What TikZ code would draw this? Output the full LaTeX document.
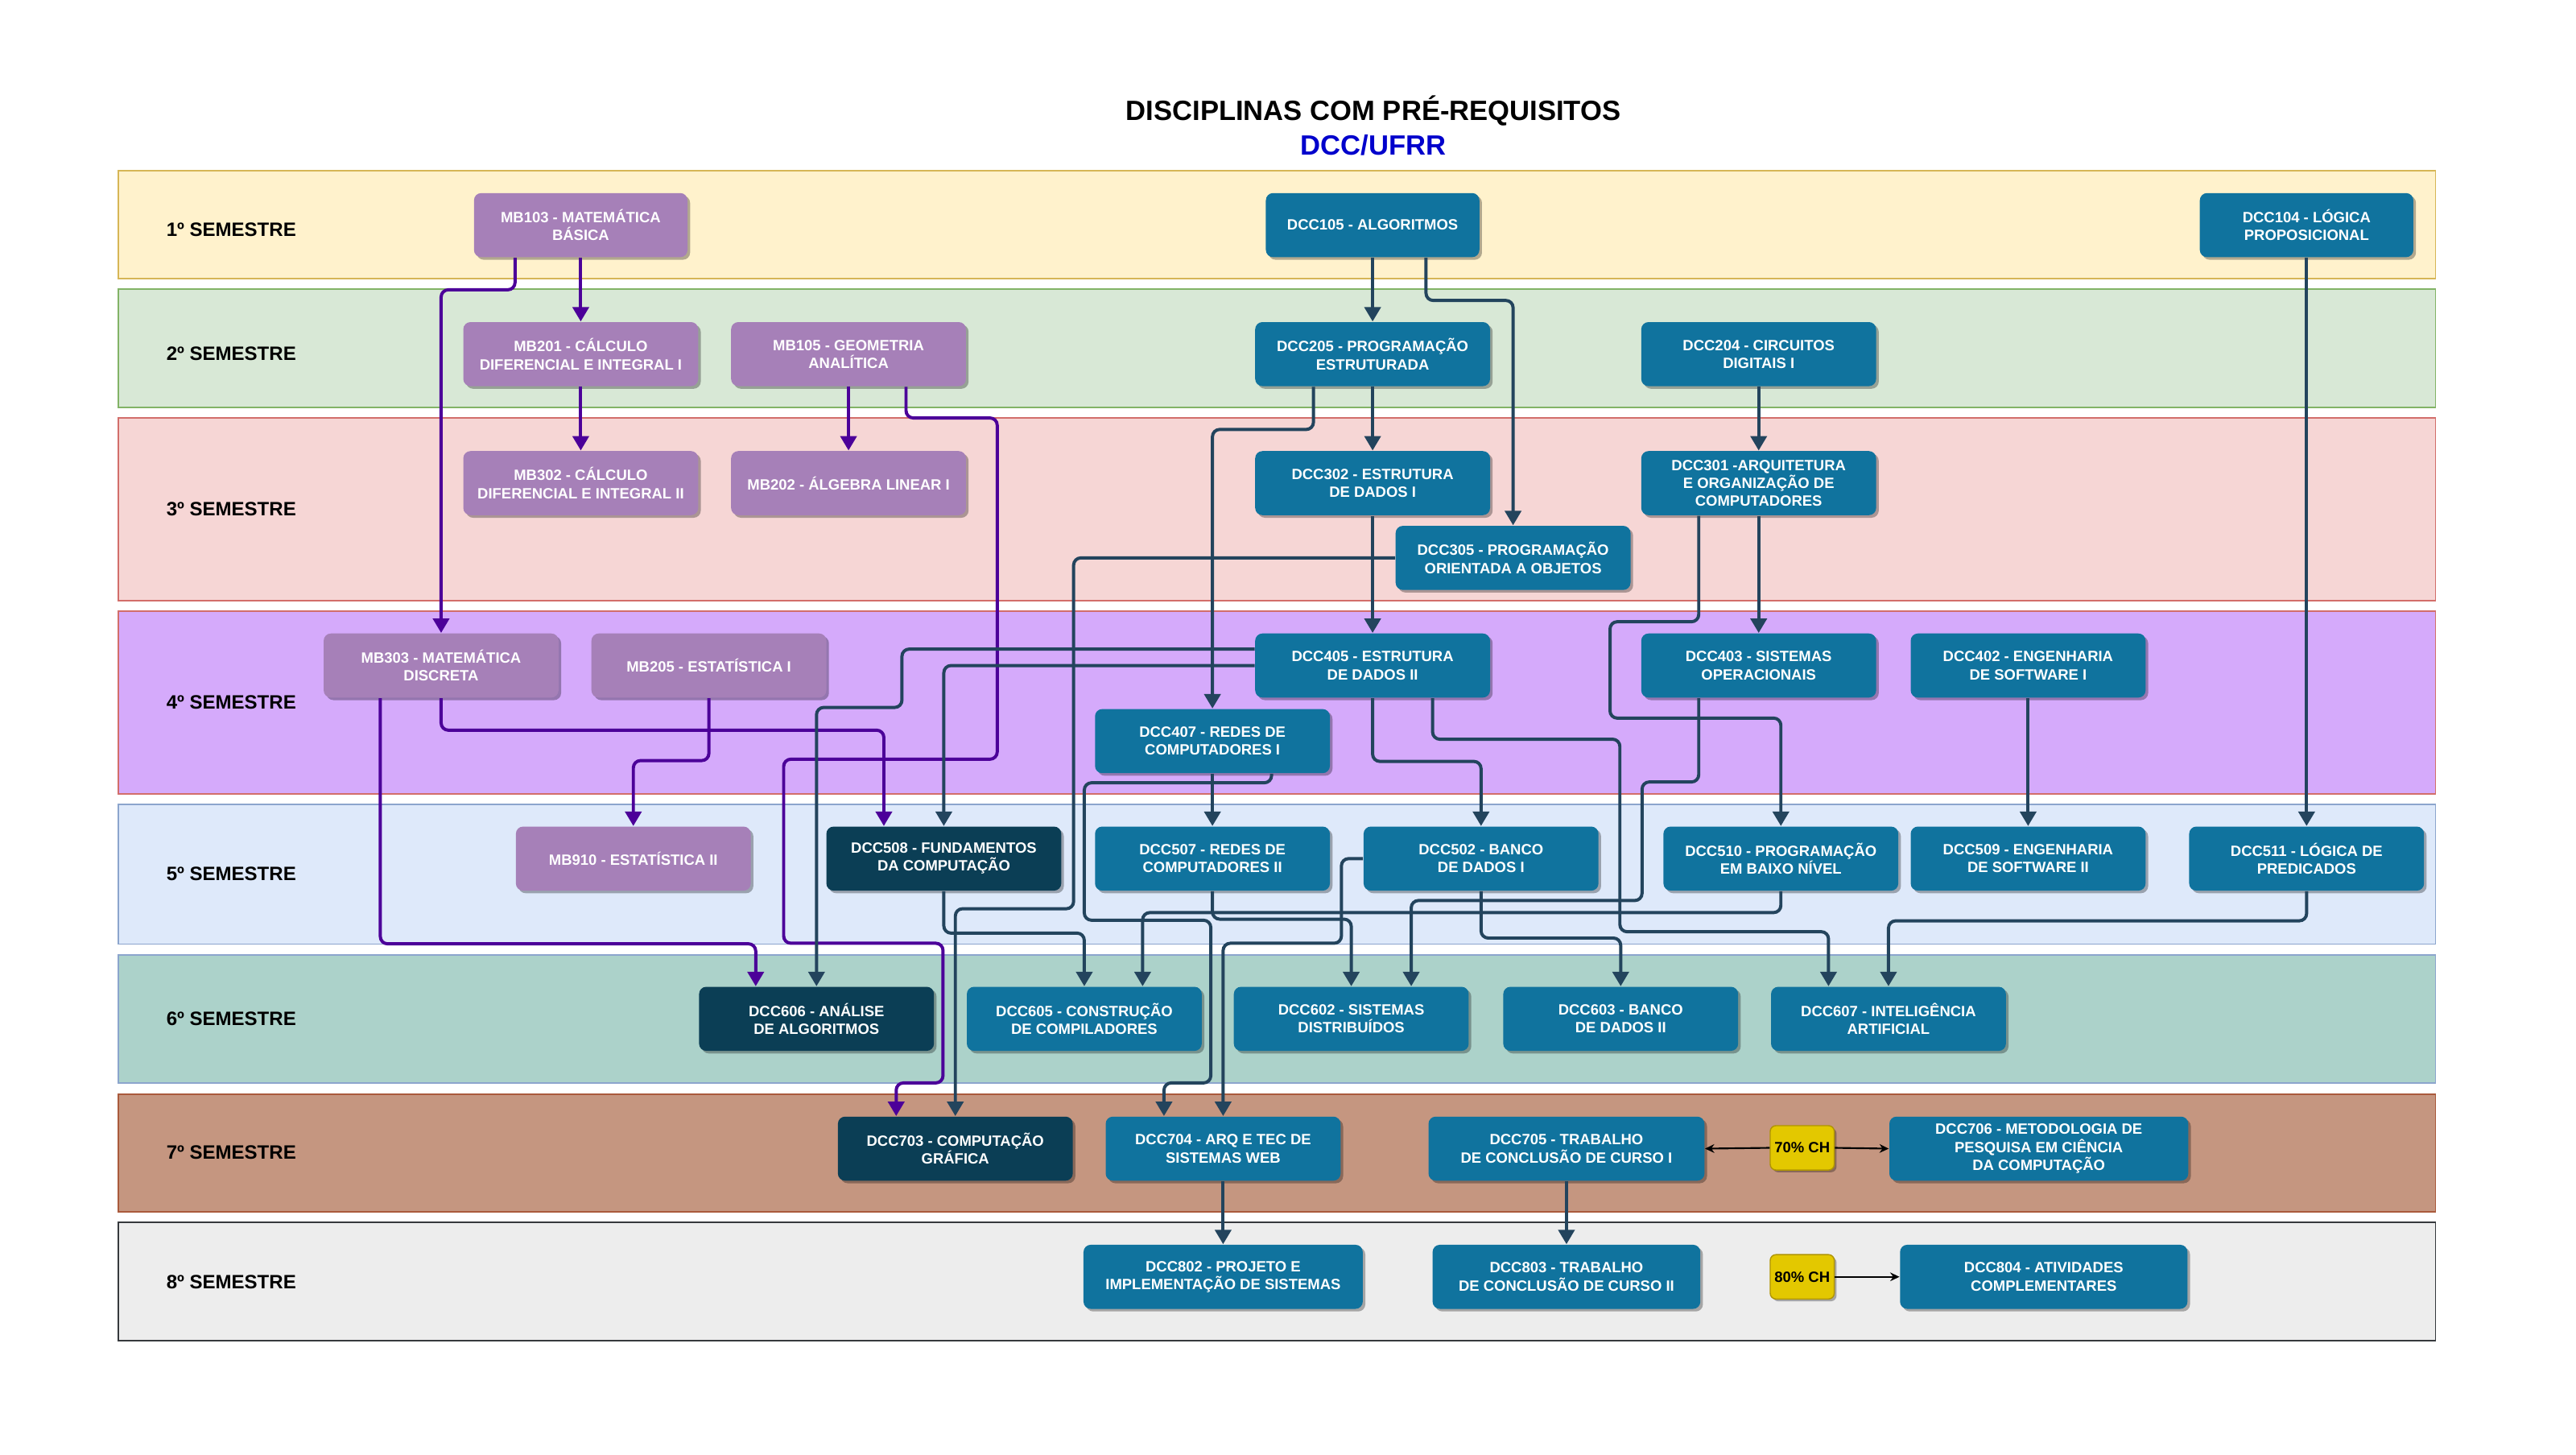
\documentclass[tikz,border=0pt]{standalone}
\usepackage{fontspec}
\setmainfont{Liberation Sans}
\usetikzlibrary{arrows.meta, calc, shadows, backgrounds}

\definecolor{mbpurple}{HTML}{A680B8}
\definecolor{dccblue}{HTML}{10739E}
\definecolor{dccdark}{HTML}{0B3E55}
\definecolor{linepurple}{HTML}{4C0099}
\definecolor{lineblue}{HTML}{23445D}
\definecolor{titleblue}{HTML}{0000CC}
\definecolor{badgefill}{HTML}{E3C800}
\definecolor{badgedraw}{HTML}{B09500}

\begin{document}
\begin{tikzpicture}[
    x=0.02cm, y=-0.02cm,
    >={Triangle[width=5.6pt, length=5pt]},
    box/.style={
        rounded corners=2.5pt, minimum width=2.86cm, minimum height=0.78cm,
        align=center, inner sep=1pt, text=white,
        font=\fontsize{5.15}{6.2}\selectfont\bfseries,
        drop shadow={shadow xshift=0.9pt, shadow yshift=-0.9pt, opacity=0.3, fill=black},
    },
    mb/.style={box,   fill=mbpurple},
    dcc/.style={box,  fill=dccblue},
    core/.style={box, fill=dccdark},
    badge/.style={
        draw=badgedraw, fill=badgefill, line width=0.4pt, rounded corners=2pt,
        minimum width=0.78cm, minimum height=0.54cm, inner sep=0pt,
        font=\fontsize{5.15}{6.2}\selectfont\bfseries,
        drop shadow={shadow xshift=0.8pt, shadow yshift=-0.8pt, opacity=0.3, fill=black},
    },
    lane/.style={line width=0.5pt},
    semlabel/.style={anchor=west, inner sep=0pt, font=\fontsize{6.7}{8}\selectfont\bfseries},
    parr/.style={->, line width=1.1pt, draw=linepurple, rounded corners=2.5pt},
    barr/.style={->, line width=1.1pt, draw=lineblue, rounded corners=2.5pt},
    karr/.style={-{Stealth[length=3.2pt, width=3pt]}, line width=0.6pt, draw=black},
]

\useasboundingbox (0,0) rectangle (1568,885);

% ============ TITLE ============
\node[anchor=base, font=\fontsize{9.65}{11}\selectfont\bfseries] (title) at (836,73.5) {DISCIPLINAS COM PRÉ-REQUISITOS};
\node[anchor=base, font=\fontsize{9.65}{11}\selectfont\bfseries, text=titleblue] (subtitle) at (836,94.5) {DCC/UFRR};

% ============ NODES ============

% 1º semestre (y=137)
\node[mb,  minimum width=2.6cm] (mb103)  at (353.5,137) {MB103 - MATEMÁTICA\\BÁSICA};
\node[dcc, minimum width=2.6cm] (dcc105) at (835.5,137) {DCC105 - ALGORITMOS};
\node[dcc, minimum width=2.6cm] (dcc104) at (1404,137)  {DCC104 - LÓGICA\\PROPOSICIONAL};

% 2º semestre (y=215.5)
\node[mb]  (mb201)  at (353.5,215.5)  {MB201 - CÁLCULO\\DIFERENCIAL E INTEGRAL I};
\node[mb]  (mb105)  at (516.5,215.5)  {MB105 - GEOMETRIA\\ANALÍTICA};
\node[dcc] (dcc205) at (835.5,215.5)  {DCC205 - PROGRAMAÇÃO\\ESTRUTURADA};
\node[dcc] (dcc204) at (1070.5,215.5) {DCC204 - CIRCUITOS\\DIGITAIS I};

% 3º semestre (y=294), POO a bit lower
\node[mb]  (mb302)  at (353.5,294)  {MB302 - CÁLCULO\\DIFERENCIAL E INTEGRAL II};
\node[mb]  (mb202)  at (516.5,294)  {MB202 - ÁLGEBRA LINEAR I};
\node[dcc] (dcc302) at (835.5,294)  {DCC302 - ESTRUTURA\\DE DADOS I};
\node[dcc] (dcc301) at (1070.5,294) {DCC301 -ARQUITETURA\\E ORGANIZAÇÃO DE\\COMPUTADORES};
\node[dcc] (dcc305) at (921,339.5)  {DCC305 - PROGRAMAÇÃO\\ORIENTADA A OBJETOS};

% 4º semestre (y=405), Redes I a bit lower
\node[mb]  (mb303)  at (268.5,405)  {MB303 - MATEMÁTICA\\DISCRETA};
\node[mb]  (mb205)  at (431.5,405)  {MB205 - ESTATÍSTICA I};
\node[dcc] (dcc405) at (835.5,405)  {DCC405 - ESTRUTURA\\DE DADOS II};
\node[dcc] (dcc403) at (1070.5,405) {DCC403 - SISTEMAS\\OPERACIONAIS};
\node[dcc] (dcc402) at (1234.5,405) {DCC402 - ENGENHARIA\\DE SOFTWARE I};
\node[dcc] (dcc407) at (738,451)    {DCC407 - REDES DE\\COMPUTADORES I};

% 5º semestre (y=522.5)
\node[mb]   (mb910)  at (385.5,522.5)  {MB910 - ESTATÍSTICA II};
\node[core] (dcc508) at (574.5,522.5)  {DCC508 - FUNDAMENTOS\\DA COMPUTAÇÃO};
\node[dcc]  (dcc507) at (738,522.5)    {DCC507 - REDES DE\\COMPUTADORES II};
\node[dcc]  (dcc502) at (901.5,522.5)  {DCC502 - BANCO\\DE DADOS I};
\node[dcc]  (dcc510) at (1084,522.5)   {DCC510 - PROGRAMAÇÃO\\EM BAIXO NÍVEL};
\node[dcc]  (dcc509) at (1234.5,522.5) {DCC509 - ENGENHARIA\\DE SOFTWARE II};
\node[dcc]  (dcc511) at (1404,522.5)   {DCC511 - LÓGICA DE\\PREDICADOS};

% 6º semestre (y=620)
\node[core] (dcc606) at (497,620)    {DCC606 - ANÁLISE\\DE ALGORITMOS};
\node[dcc]  (dcc605) at (660,620)    {DCC605 - CONSTRUÇÃO\\DE COMPILADORES};
\node[dcc]  (dcc602) at (822.5,620)  {DCC602 - SISTEMAS\\DISTRIBUÍDOS};
\node[dcc]  (dcc603) at (986.5,620)  {DCC603 - BANCO\\DE DADOS II};
\node[dcc]  (dcc607) at (1149.5,620) {DCC607 - INTELIGÊNCIA\\ARTIFICIAL};

% 7º semestre (y=699)
\node[core] (dcc703) at (581.5,699) {DCC703 - COMPUTAÇÃO\\GRÁFICA};
\node[dcc]  (dcc704) at (744.5,699) {DCC704 - ARQ E TEC DE\\SISTEMAS WEB};
\node[dcc, minimum width=3.36cm] (dcc705) at (953.5,699) {DCC705 - TRABALHO\\DE CONCLUSÃO DE CURSO I};
\node[badge] (ch70) at (1097,698.5) {70\% CH};
\node[dcc, minimum width=3.64cm] (dcc706) at (1241,699) {DCC706 - METODOLOGIA DE\\PESQUISA EM CIÊNCIA\\DA COMPUTAÇÃO};

% 8º semestre (y=777)
\node[dcc, minimum width=3.4cm]  (dcc802) at (744.5,777) {DCC802 - PROJETO E\\IMPLEMENTAÇÃO DE SISTEMAS};
\node[dcc, minimum width=3.26cm] (dcc803) at (953.5,777) {DCC803 - TRABALHO\\DE CONCLUSÃO DE CURSO II};
\node[badge] (ch80) at (1097,777) {80\% CH};
\node[dcc, minimum width=3.5cm]  (dcc804) at (1244,777)  {DCC804 - ATIVIDADES\\COMPLEMENTARES};

% ============ ARROWS ============

% Math track (purple)
\draw[parr] (mb103.south) -- (mb201.north);
\draw[parr] ($(mb103.south)+(-40,0)$) -- ++(0,19.5) -| (mb303.north);
\draw[parr] (mb201.south) -- (mb302.north);
\draw[parr] (mb105.south) -- (mb202.north);
\draw[parr] ($(mb105.south)+(35,0)$) -- ++(0,19) -| (607,462) -| (477,574) -| (574,659) -| ($(dcc703.north)+(-36,0)$);
\draw[parr] ($(mb303.south)+(-37,0)$) -- ++(0,149.5) -| ($(dcc606.north)+(-37,0)$);
\draw[parr] (mb303.south) -- ++(0,19.5) -| ($(dcc508.north)+(-36.5,0)$);
\draw[parr] (mb205.south) -- ++(0,38) -| (mb910.north);

% Algorithms / programming chain
\draw[barr] (dcc105.south) -- (dcc205.north);
\draw[barr] ($(dcc105.south)+(32.5,0)$) -- ++(0,26) -| (dcc305.north);
\draw[barr] (dcc205.south) -- (dcc302.north);
\draw[barr] ($(dcc205.south)+(-36,0)$) -- ++(0,26) -| (dcc407.north);
\draw[barr] (dcc302.south) -- (dcc405.north);
\draw[barr] (dcc305.west) -| (653.5,553) -| (dcc703.north);

% Estrutura de Dados II fans out
\draw[barr] ($(dcc405.west)+(0,-10)$) -| (549,430.5) -| (dcc606.north);
\draw[barr] (dcc405.west) -| (dcc508.north);
\draw[barr] (dcc405.south) -- ++(0,38.5) -| (dcc502.north);
\draw[barr] ($(dcc405.south)+(36.5,0)$) -- ++(0,25) -| (986,567) -| ($(dcc607.north)+(-36.5,0)$);

% Networks
\draw[barr] (dcc407.south) -- (dcc507.north);
\draw[barr] ($(dcc407.south)+(36,0)$) -- ++(0,5.5) -| (660,560) -| (737,659) -| ($(dcc704.north)+(-36,0)$);
\draw[barr] (dcc507.south) -- ++(0,17) -| (dcc602.north);

% Databases
\draw[barr] (dcc502.west) -| (816.5,574) -| (dcc704.north);
\draw[barr] (dcc502.south) -- ++(0,28.5) -| (dcc603.north);

% Hardware / systems
\draw[barr] (dcc204.south) -- (dcc301.north);
\draw[barr] (dcc301.south) -- (dcc403.north);
\draw[barr] ($(dcc301.south)+(-36.5,0)$) -- ++(0,64.5) -| (980,437) -| (dcc510.north);
\draw[barr] ($(dcc403.south)+(-36.5,0)$) -- ++(0,51) -| (999.5,548) -| ($(dcc602.north)+(36.5,0)$);
\draw[barr] (dcc510.south) -- ++(0,13) -| ($(dcc605.north)+(35.5,0)$);
\draw[barr] (dcc508.south) -- ++(0,25.5) -| (dcc605.north);

% Software engineering and logic
\draw[barr] (dcc402.south) -- (dcc509.north);
\draw[barr] (dcc104.south) -- (dcc511.north);
\draw[barr] (dcc511.south) -- ++(0,18) -| (dcc607.north);

% Final semesters
\draw[barr] (dcc704.south) -- (dcc802.north);
\draw[barr] (dcc705.south) -- (dcc803.north);
\draw[karr] (ch70.west) -- (dcc705.east);
\draw[karr] (ch70.east) -- (dcc706.west);
\draw[karr] (ch80.east) -- (dcc804.west);

% ============ SEMESTER LANES + TITLES ============
\begin{pgfonlayer}{background}
    \fill[white] (0,0) rectangle (1568,885);
    \draw[lane, fill={rgb,255:red,255;green,242;blue,204}, draw={rgb,255:red,214;green,182;blue,86}]  (72,104)   rectangle (1482.5,169.5);
    \draw[lane, fill={rgb,255:red,216;green,232;blue,214}, draw={rgb,255:red,130;green,179;blue,102}] (72,176)   rectangle (1482.5,248);
    \draw[lane, fill={rgb,255:red,246;green,214;blue,213}, draw={rgb,255:red,210;green,110;blue,106}] (72,254.5) rectangle (1482.5,365.5);
    \draw[lane, fill={rgb,255:red,213;green,170;blue,251}, draw={rgb,255:red,210;green,110;blue,106}] (72,372)   rectangle (1482.5,483);
    \draw[lane, fill={rgb,255:red,222;green,233;blue,250}, draw={rgb,255:red,140;green,165;blue,205}] (72,489.5) rectangle (1482.5,574.5);
    \draw[lane, fill={rgb,255:red,172;green,210;blue,202}, draw={rgb,255:red,140;green,165;blue,205}] (72,581)   rectangle (1482.5,659);
    \draw[lane, fill={rgb,255:red,197;green,150;blue,128}, draw={rgb,255:red,170;green,90;blue,60}]   (72,666)   rectangle (1482.5,737.5);
    \draw[lane, fill={rgb,255:red,237;green,237;blue,237}, draw={rgb,255:red,54;green,57;blue,61}]    (72,744)   rectangle (1482.5,816);
\end{pgfonlayer}

\node[semlabel] (sem1) at (101,140)   {1º SEMESTRE};
\node[semlabel] (sem2) at (101,215)   {2º SEMESTRE};
\node[semlabel] (sem3) at (101,310)   {3º SEMESTRE};
\node[semlabel] (sem4) at (101,427.5) {4º SEMESTRE};
\node[semlabel] (sem5) at (101,532)   {5º SEMESTRE};
\node[semlabel] (sem6) at (101,620)   {6º SEMESTRE};
\node[semlabel] (sem7) at (101,701.5) {7º SEMESTRE};
\node[semlabel] (sem8) at (101,780)   {8º SEMESTRE};

\end{tikzpicture}
\end{document}
